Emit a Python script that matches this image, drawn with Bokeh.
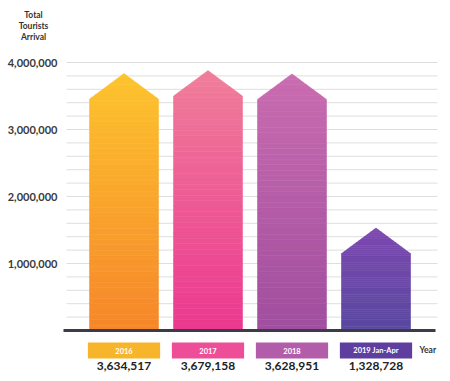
from bokeh.plotting import figure
from bokeh.models import Range1d
from bokeh.core.properties import value
from bokeh.embed import file_html
from bokeh.resources import INLINE

# ---- data ----
categories = ["2016", "2017", "2018", "2019 Jan-Apr"]
arrivals = [3634517, 3679158, 3628951, 1328728]
value_labels = ["3,634,517", "3,679,158", "3,628,951", "1,328,728"]
y_ticks = [1000000, 2000000, 3000000, 4000000]
y_tick_labels = ["1,000,000", "2,000,000", "3,000,000", "4,000,000"]
grid_ticks = [200000 * i for i in range(1, 21)]
title_lines = ["Total", "Tourists", "Arrival"]
axis_name = "Year"

# ---- styles ----
top_colors = ["#FDC42E", "#F07E9A", "#CA6CB0", "#7E48B1"]
bottom_colors = ["#F6862A", "#EC3890", "#A04E9F", "#5848A0"]
box_colors = ["#F7B52C", "#EE4D97", "#B35DAA", "#5E3E9F"]
FONT = value("Lato")

bar_w = 0.82
tip_up = 200000
shoulder_down = 180000

W, H = 442, 373
PX_PER_M = 67.0
PX_PER_CAT = 84.0
zero_px = 330.0      # baseline, from figure top
first_cat_px = 123.5  # centre of first bar, from figure left

def ypx(px_from_top):
    return (zero_px - px_from_top) / PX_PER_M * 1e6

def xpx(px_from_left):
    return (px_from_left - first_cat_px) / PX_PER_CAT

p = figure(width=W, height=H, output_backend="svg", toolbar_location=None,
           x_range=Range1d(xpx(0), xpx(W)), y_range=Range1d(ypx(H), ypx(0)),
           x_axis_location=None, y_axis_location=None,
           min_border_left=0, min_border_right=0,
           min_border_top=0, min_border_bottom=0)
p.outline_line_color = None
p.background_fill_color = "white"
p.border_fill_color = "white"
p.xgrid.visible = False
p.ygrid.visible = False

# grid lines
p.segment(x0=[xpx(66)] * len(grid_ticks), x1=[xpx(437)] * len(grid_ticks),
          y0=grid_ticks, y1=grid_ticks, line_color="#dedede", line_width=1)

def hex2rgb(h):
    h = h.lstrip("#")
    return [int(h[i:i + 2], 16) for i in (0, 2, 4)]

def mix(c1, c2, f):
    a, b = hex2rgb(c1), hex2rgb(c2)
    return "#%02x%02x%02x" % tuple(int(round(a[i] + (b[i] - a[i]) * f)) for i in range(3))

# gradient arrow bars
xs, ys, cols = [], [], []
n = 48
for i, v in enumerate(arrivals):
    xc = i
    hw = bar_w / 2
    s = v - shoulder_down
    t = v + tip_up

    def w(y):
        return hw * (t - y) / (t - s)

    for k in range(n):
        ya = t * k / n
        yb = t * (k + 1) / n
        if yb <= s:
            px = [xc - hw, xc + hw, xc + hw, xc - hw]
            py = [ya, ya, yb, yb]
        elif ya >= s:
            px = [xc - w(ya), xc + w(ya), xc + w(yb), xc - w(yb)]
            py = [ya, ya, yb, yb]
        else:
            px = [xc - hw, xc + hw, xc + hw, xc + w(yb), xc - w(yb), xc - hw]
            py = [ya, ya, s, yb, yb, s]
        xs.append(px)
        ys.append(py)
        cols.append(mix(bottom_colors[i], top_colors[i], (k + 0.5) / n))

p.patches(xs=xs, ys=ys, fill_color=cols, line_color=cols, line_width=0.6)

# baseline
p.segment(x0=[xpx(63)], x1=[xpx(435)], y0=[0], y1=[0], line_color="#3a3c48", line_width=3)

# y tick labels
p.text(x=[xpx(57)] * len(y_ticks), y=y_ticks, text=y_tick_labels, text_color="#3a3a3a",
       text_font=FONT, text_font_style="bold", text_font_size="11px",
       text_align="right", text_baseline="middle")

# title
title_y = [ypx(14 + 11 * j) for j in range(len(title_lines))]
p.text(x=[xpx(33)] * len(title_lines), y=title_y, text=title_lines, text_color="#333333",
       text_font=FONT, text_font_style="bold", text_font_size="8.5px",
       text_align="center", text_baseline="middle")

# category boxes
pos = list(range(len(categories)))
box_y = ypx(350)
p.rect(x=pos, y=[box_y] * 4, width=0.86, height=16 / PX_PER_M * 1e6,
       fill_color=box_colors, line_color=None)
p.text(x=pos, y=[box_y] * 4, text=categories, text_color="white",
       text_font=FONT, text_font_style="bold", text_font_size="7.5px",
       text_align="center", text_baseline="middle")

# value labels
p.text(x=pos, y=[ypx(365)] * 4, text=value_labels, text_color="#222222",
       text_font=FONT, text_font_style="bold", text_font_size="12px",
       text_align="center", text_baseline="middle")

# axis name
p.text(x=[xpx(419)], y=[ypx(349)], text=[axis_name], text_color="#333333",
       text_font=FONT, text_font_style="bold", text_font_size="8.5px",
       text_align="left", text_baseline="middle")

open("out.html", "w").write(file_html(p, INLINE))
